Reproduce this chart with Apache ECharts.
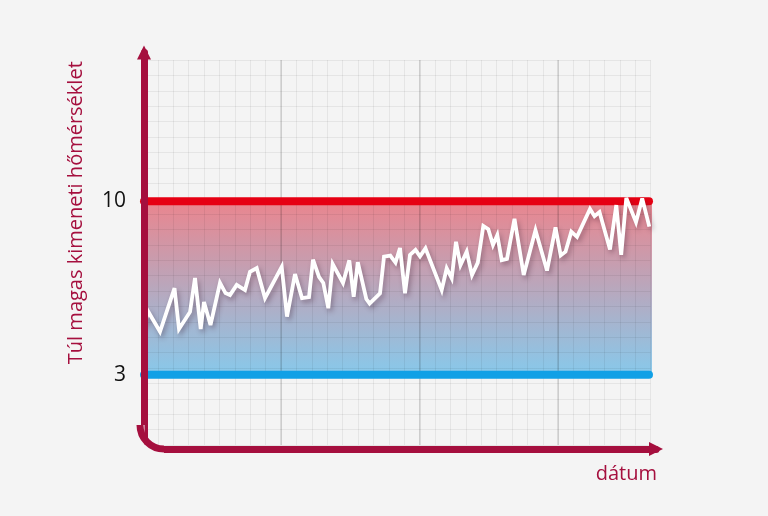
<!DOCTYPE html>
<html>
<head>
<meta charset="utf-8">
<script src="https://cdn.jsdelivr.net/npm/echarts@6/dist/echarts.min.js"></script>
<style>
html,body{margin:0;padding:0;background:#f4f4f4;}
#c{width:768px;height:516px;}
</style>
</head>
<body>
<div id="c"></div>
<script>
// ---- data ----
const dayX = [0, 0.86, 3.2, 6.1, 7.0, 9.2, 10.2, 11.34, 12.0, 13.3, 15.2, 16.3, 17.2, 18.54, 20.2, 21.2, 22.54, 24.2,
  27.54, 28.6, 30.2, 31.6, 33.0, 33.8, 35.0, 35.86, 36.86, 37.74, 39.8, 41.06, 41.94, 42.76, 44.46, 45.12, 47.2,
  48.0, 49.26, 50.3, 51.2, 52.2, 53.2, 54.3, 55.2, 56.3, 59.54, 60.54, 61.54, 62.4, 63.3, 64.54, 65.6, 66.76,
  67.86, 68.86, 69.8, 70.66, 71.54, 72.6, 74.1, 75.94, 78.3, 80.6, 82.3, 83.34, 84.3, 85.46, 86.6, 89.2, 90.1,
  91.1, 93.2, 94.46, 95.44, 96.46, 98.4, 99.64, 101.06];
const tempY = [5.00, 5.54, 4.73, 6.49, 4.84, 5.53, 6.90, 4.84, 5.93, 5.00, 6.70, 6.29, 6.21, 6.62, 6.41, 7.15, 7.30, 6.09,
  7.35, 5.34, 7.06, 6.09, 6.13, 7.64, 6.94, 6.70, 5.68, 7.46, 6.70, 7.61, 6.14, 7.54, 6.05, 5.87, 6.28,
  7.76, 7.80, 7.52, 8.11, 6.28, 7.83, 8.03, 7.77, 8.10, 6.41, 7.29, 6.89, 8.36, 7.42, 7.96, 7.02, 7.52,
  9.00, 8.87, 8.23, 8.63, 7.62, 7.67, 9.29, 7.02, 8.83, 7.20, 8.94, 7.81, 7.96, 8.77, 8.56, 9.68, 9.39,
  9.56, 8.05, 9.84, 7.83, 10.13, 9.15, 10.11, 8.97];
const upperLimit = 10;
const lowerLimit = 3;
const limitSpan = [0, 101];
const bandSpan = [0, 101.6];
const yTickLabels = ['3', '10'];
const yAxisTitle = 'Túl magas kimeneti hőmérséklet';
const xAxisTitle = 'dátum';

// ---- styles ----
const AXIS_COLOR = '#a50f3e';
const FONT = '"Open Sans", "Noto Sans", sans-serif';
const X_MIN = -0.8, X_MAX = 102.4;

const series = [
  {
    type: 'line', xAxisIndex: 0, yAxisIndex: 0, z: 1, data: [], silent: true,
    markArea: {
      silent: true, z: 1,
      itemStyle: {
        color: new echarts.graphic.LinearGradient(0, 0, 0, 1, [
          { offset: 0, color: '#ea858e' },
          { offset: 1, color: '#88c9eb' }
        ])
      },
      data: [[{ coord: [bandSpan[0], upperLimit] }, { coord: [bandSpan[1], lowerLimit] }]]
    }
  },
  {
    type: 'line', xAxisIndex: 0, yAxisIndex: 0, z: 3, symbol: 'none', silent: true,
    lineStyle: { color: '#e60013', width: 8, cap: 'round' },
    data: [[limitSpan[0], upperLimit], [limitSpan[1], upperLimit]]
  },
  {
    type: 'line', xAxisIndex: 0, yAxisIndex: 0, z: 3, symbol: 'none', silent: true,
    lineStyle: { color: '#10a0e6', width: 8, cap: 'round' },
    data: [[limitSpan[0], lowerLimit], [limitSpan[1], lowerLimit]]
  },
  {
    type: 'line', xAxisIndex: 0, yAxisIndex: 0, z: 4, symbol: 'none', silent: true,
    lineStyle: {
      color: '#ffffff', width: 3.8, join: 'miter', miterLimit: 4,
      shadowColor: 'rgba(60,30,50,0.35)', shadowBlur: 5, shadowOffsetX: 2, shadowOffsetY: 3
    },
    data: dayX.map((d, i) => [d, tempY[i]])
  }
];

const option = {
  animation: false,
  backgroundColor: '#f4f4f4',
  grid: [
    { left: 140, right: 112, top: 52.4, bottom: 67, containLabel: false },
    { left: 142.4, right: 117.4, top: 60, bottom: 71, containLabel: false }
  ],
  xAxis: [
    {
      gridIndex: 0, type: 'value', min: X_MIN, max: X_MAX, z: 5,
      axisLine: { show: true, symbol: ['none', 'triangle'], symbolSize: [14, 14],
        lineStyle: { color: AXIS_COLOR, width: 7 } },
      axisTick: { show: false }, axisLabel: { show: false }, splitLine: { show: false },
      name: xAxisTitle, nameLocation: 'end', nameGap: 1,
      nameTextStyle: { color: AXIS_COLOR, fontSize: 20, fontFamily: FONT, align: 'right', verticalAlign: 'top', padding: [15, 0, 0, 0] }
    },
    {
      gridIndex: 1, type: 'value', min: 0, max: 33, interval: 1, z: 2,
      axisLine: { show: false }, axisTick: { show: false }, axisLabel: { show: false },
      splitLine: { show: true, lineStyle: { color: 'rgba(0,0,0,0.06)', width: 1 } }
    },
    {
      gridIndex: 1, type: 'value', min: 0, max: 33, interval: 9, z: 2,
      axisLine: { show: false }, axisTick: { show: false }, axisLabel: { show: false },
      splitLine: { show: true, lineStyle: { color: ['rgba(0,0,0,0)', 'rgba(0,0,0,0.1)', 'rgba(0,0,0,0.1)', 'rgba(0,0,0,0.1)', 'rgba(0,0,0,0)'], width: 2 } }
    }
  ],
  yAxis: [
    {
      gridIndex: 0, type: 'value', min: 0, max: 16, interval: 1, z: 5,
      axisLine: { show: true, symbol: ['none', 'triangle'], symbolSize: [14, 14],
        lineStyle: { color: AXIS_COLOR, width: 7 } },
      axisTick: { show: false }, splitLine: { show: false },
      axisLabel: {
        show: true, margin: 14, color: '#111111', fontSize: 21, fontFamily: FONT,
        formatter: v => (yTickLabels.indexOf(String(v)) >= 0 ? String(v) : '')
      },
      name: yAxisTitle, nameLocation: 'middle', nameGap: 54,
      nameTextStyle: { color: AXIS_COLOR, fontSize: 20, fontFamily: FONT, padding: [0, 0, 0, 76] }
    },
    {
      gridIndex: 1, type: 'value', min: 0, max: 25, interval: 1, z: 2,
      axisLine: { show: false }, axisTick: { show: false }, axisLabel: { show: false },
      splitLine: { show: true, lineStyle: { color: 'rgba(0,0,0,0.06)', width: 1 } }
    }
  ],
  series: series
};

const chart = echarts.init(document.getElementById('c'), null, { renderer: 'canvas' });
chart.setOption(option);

// rounded corner where the two axis lines meet
const o = chart.convertToPixel({ xAxisIndex: 0, yAxisIndex: 0 }, [X_MIN, 0]);
const ox = o[0], oy = o[1], r = 24;
chart.setOption({
  graphic: [
    { type: 'rect', z: 10, silent: true, shape: { x: ox - 5, y: oy - r, width: 9.5, height: r + 5 }, style: { fill: '#f4f4f4' } },
    { type: 'rect', z: 10, silent: true, shape: { x: ox - 5, y: oy - 4.5, width: r + 5, height: 9.5 }, style: { fill: '#f4f4f4' } },
    { type: 'arc', z: 11, silent: true,
      shape: { cx: ox + r, cy: oy - r, r: r, startAngle: Math.PI / 2, endAngle: Math.PI, clockwise: true },
      style: { fill: null, stroke: AXIS_COLOR, lineWidth: 7, lineCap: 'butt' } }
  ]
});
</script>
</body>
</html>
